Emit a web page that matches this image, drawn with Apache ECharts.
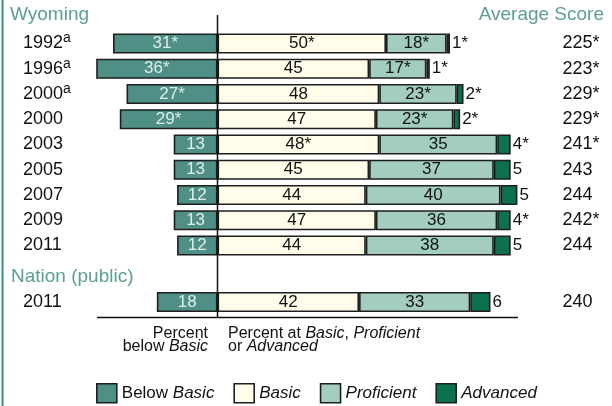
<!DOCTYPE html>
<html><head><meta charset="utf-8">
<script src="https://cdn.jsdelivr.net/npm/echarts@6/dist/echarts.min.js"></script>
<style>html,body{margin:0;padding:0;background:#fff}#c{width:612px;height:406px}</style>
</head><body><div id="c"></div>
<script>
// ---- data ----
const rows = ['1992a','1996a','2000a','2000','2003','2005','2007','2009','2011'];
const belowBasic = [31,36,27,29,13,13,12,13,12];
const belowStar  = [1,1,1,1,0,0,0,0,0];
const basic      = [50,45,48,47,48,45,44,47,44];
const basicStar  = [1,0,0,0,1,0,0,0,0];
const proficient = [18,17,23,23,35,37,40,36,38];
const profStar   = [1,1,1,1,0,0,0,0,0];
const advanced   = [1,1,2,2,4,5,5,4,5];
const advStar    = [1,1,1,1,1,0,0,1,0];
const scores     = [225,223,229,229,241,243,244,242,244];
const scoreStar  = [1,1,1,1,1,0,0,1,0];

const nationRows  = ['2011'];
const nationBelow = [18];
const nationBasic = [42];
const nationProf  = [33];
const nationAdv   = [6];
const nationScore = [240];
const nationStar  = [0];

const levelNames = ['Below Basic','Basic','Proficient','Advanced'];

// ---- styles ----
const FONT = 'Liberation Sans, Arial, sans-serif';
const colors = {'Below Basic':'#4f8f86','Basic':'#fffdea','Proficient':'#a2cdbf','Advanced':'#0d7050'};
const TEAL = '#5c9e95';
const BORDER = '#1e1e1e';

const chart = echarts.init(document.getElementById('c'));

function mk(name, vals, stars, gi, neg, labelCfg) {
  return {
    name, type: 'bar', stack: 'g' + gi, xAxisIndex: gi, yAxisIndex: gi * 2,
    barWidth: 20,
    data: vals.map(v => neg ? -v : v),
    itemStyle: {color: colors[name], borderColor: BORDER, borderWidth: 1.6},
    label: Object.assign({
      show: true, fontFamily: FONT, fontSize: 17,
      formatter: p => Math.abs(p.value) + (stars[p.dataIndex] ? '*' : '')
    }, labelCfg),
    emphasis: {disabled: true}, animation: false
  };
}
function seriesFor(gi, b, bs, ba, bas, pr, prs, ad, ads) {
  return [
    mk('Below Basic', b, bs, gi, true, {position: 'inside', color: '#dcefea'}),
    mk('Basic', ba, bas, gi, false, {position: 'inside', color: '#111'}),
    mk('Proficient', pr, prs, gi, false, {position: 'inside', color: '#111'}),
    mk('Advanced', ad, ads, gi, false, {position: 'right', distance: 2, color: '#111'})
  ];
}

const GL = 82.7, GR = 612 - 554.5, ROW = 25.25;
const yearFmt = v => v.endsWith('a') ? v.slice(0, -1) + '{sup|a}' : v;
const yearLabel = {
  align: 'left', margin: GL - 23, fontFamily: FONT, fontSize: 18, color: '#111',
  formatter: yearFmt, rich: {sup: {fontSize: 14, fontFamily: FONT, color: '#111', verticalAlign: 'bottom', padding: [0, 0, 10, 0]}}
};
const scoreLabel = {align: 'left', margin: 8, fontFamily: FONT, fontSize: 18, color: '#111'};
const hiddenAxisParts = {axisLine: {show: false}, axisTick: {show: false}, splitLine: {show: false}};

function yAxes(gi, cats, sc, st) {
  return [
    Object.assign({type: 'category', gridIndex: gi, data: cats, inverse: true, position: 'left', axisLabel: yearLabel}, hiddenAxisParts),
    Object.assign({type: 'category', gridIndex: gi, data: sc.map((s, i) => s + (st[i] ? '*' : '')), inverse: true, position: 'right', axisLabel: scoreLabel}, hiddenAxisParts)
  ];
}

const option = {
  backgroundColor: '#fff',
  animation: false,
  textStyle: {fontFamily: FONT},
  grid: [
    {left: GL, right: GR, top: 43.5 - ROW / 2, height: ROW * rows.length},
    {left: GL, right: GR, top: 302 - ROW / 2, height: ROW * nationRows.length}
  ],
  xAxis: [0, 1].map(gi => Object.assign({type: 'value', gridIndex: gi, min: -40, max: 100, show: false}, hiddenAxisParts)),
  yAxis: [...yAxes(0, rows, scores, scoreStar), ...yAxes(1, nationRows, nationScore, nationStar)],
  legend: {
    data: levelNames, left: 96, top: 383, itemWidth: 20, itemHeight: 19, itemGap: 19,
    icon: 'rect', selectedMode: false, padding: 0,
    itemStyle: {borderColor: BORDER, borderWidth: 1.6},
    formatter: n => n === 'Below Basic' ? 'Below {i|Basic}' : '{i|' + n + '}',
    textStyle: {fontFamily: FONT, fontSize: 17, color: '#111', rich: {i: {fontStyle: 'italic', fontFamily: FONT, fontSize: 17, color: '#111'}}}
  },
  series: [
    ...seriesFor(0, belowBasic, belowStar, basic, basicStar, proficient, profStar, advanced, advStar),
    ...seriesFor(1, nationBelow, nationStar, nationBasic, nationStar, nationProf, nationStar, nationAdv, nationStar)
  ]
};
chart.setOption(option);

const x0 = chart.convertToPixel({xAxisIndex: 0}, 0);
chart.setOption({
  graphic: [
    {type: 'line', shape: {x1: 2.5, y1: 0, x2: 2.5, y2: 406}, style: {stroke: '#3f8f80', lineWidth: 2}},
    {type: 'text', left: 10, top: 5, style: {text: 'Wyoming', font: '19px ' + FONT, fill: TEAL}},
    {type: 'text', right: 8, top: 5, style: {text: 'Average Score', font: '19px ' + FONT, fill: TEAL}},
    {type: 'text', left: 11, top: 267, style: {text: 'Nation (public)', font: '19px ' + FONT, fill: TEAL}},
    {type: 'line', shape: {x1: x0, y1: 15, x2: x0, y2: 318}, style: {stroke: '#111', lineWidth: 1.5}, z: 100},
    {type: 'line', shape: {x1: 97, y1: 317.5, x2: 518, y2: 317.5}, style: {stroke: '#111', lineWidth: 1.5}, z: 100},
    {type: 'text', x: 208, y: 327, style: {text: 'Percent\nbelow {i|Basic}', align: 'right', font: '16px ' + FONT, fill: '#111', lineHeight: 13,
      rich: {i: {fontStyle: 'italic', fontSize: 16, fontFamily: FONT, fill: '#111', lineHeight: 13}}}},
    {type: 'text', x: 228, y: 327, style: {text: 'Percent at {i|Basic}, {i|Proficient}\nor {i|Advanced}', align: 'left', font: '16px ' + FONT, fill: '#111', lineHeight: 13,
      rich: {i: {fontStyle: 'italic', fontSize: 16, fontFamily: FONT, fill: '#111', lineHeight: 13}}}}
  ]
});
</script></body></html>
